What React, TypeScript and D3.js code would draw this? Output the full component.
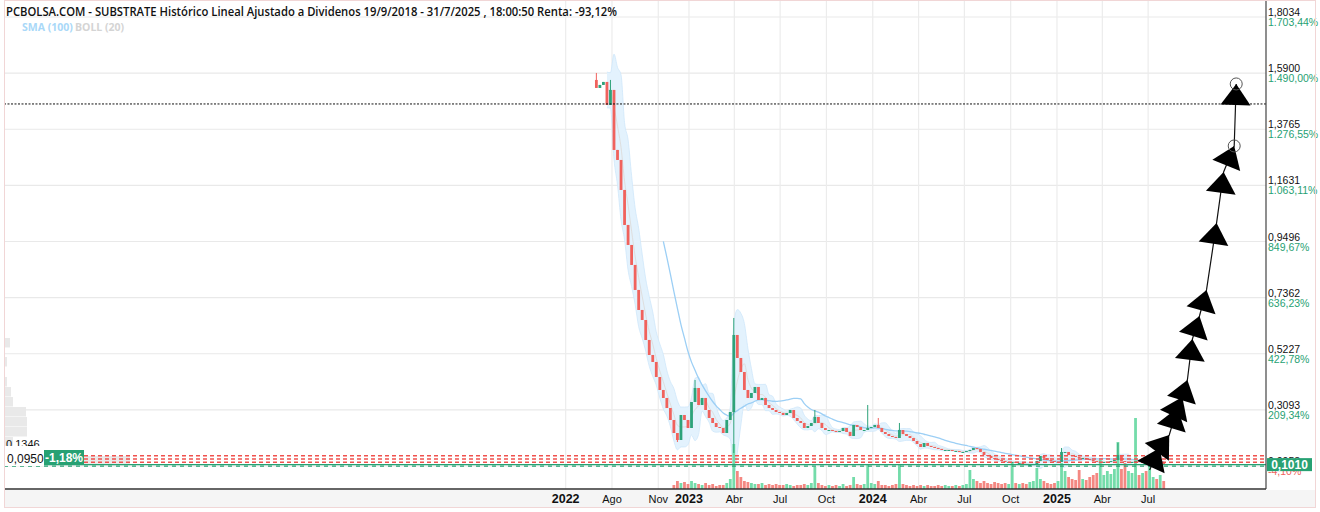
import React from 'react'
import * as d3 from 'd3'

// weekly closes from 1 Jul 2022 to end of Jul 2025
const START = '2022-07-01'
const OPEN0 = 1.5640
const closes = [
  1.5336, 1.5450, 1.5564, 1.4689, 1.5260, 1.2978, 1.2597, 1.1456, 1.0125, 0.9364,
  0.8604, 0.7653, 0.6892, 0.6511, 0.5751, 0.5180, 0.4914, 0.4343, 0.3849, 0.3545,
  0.3164, 0.2708, 0.2213, 0.1947, 0.2898, 0.2708, 0.2403, 0.3392, 0.3925, 0.3278,
  0.3545, 0.3088, 0.2784, 0.2594, 0.2441, 0.2403, 0.2213, 0.2708, 0.3012, 0.5941,
  0.5066, 0.4533, 0.3849, 0.3545, 0.3735, 0.3963, 0.3468, 0.3545, 0.3278, 0.3164,
  0.3088, 0.3012, 0.2974, 0.2898, 0.2974, 0.3088, 0.2784, 0.2670, 0.2594, 0.2403,
  0.2479, 0.2594, 0.2822, 0.2594, 0.2403, 0.2327, 0.2327, 0.2289, 0.2251, 0.2289,
  0.2403, 0.2251, 0.2099, 0.2518, 0.2441, 0.2327, 0.2327, 0.2403, 0.2441, 0.2518,
  0.2403, 0.2251, 0.2175, 0.2099, 0.2061, 0.2023, 0.2327, 0.2175, 0.2099, 0.2023,
  0.1909, 0.1795, 0.1681, 0.1833, 0.1719, 0.1681, 0.1643, 0.1605, 0.1567, 0.1567,
  0.1567, 0.1529, 0.1529, 0.1491, 0.1491, 0.1529, 0.1567, 0.1643, 0.1605, 0.1491,
  0.1376, 0.1338, 0.1262, 0.1224, 0.1186, 0.1148, 0.1110, 0.1110, 0.1110, 0.1072,
  0.1072, 0.1034, 0.0996, 0.0996, 0.1034, 0.1148, 0.1338, 0.1262, 0.1186, 0.1148,
  0.1110, 0.1110, 0.1491, 0.1491, 0.1376, 0.1338, 0.1300, 0.1262, 0.1262, 0.1224,
  0.1186, 0.1148, 0.1110, 0.1110, 0.1110, 0.1110, 0.1148, 0.1186, 0.1376, 0.1148,
  0.1110, 0.1110, 0.1110, 0.1148, 0.1110, 0.1110, 0.1072, 0.1072, 0.1072, 0.1034,
  0.1072, 0.1010,
]
// weekly volume (thousands), none shown before Dec 2022
const volumes = [
  0, 0, 0, 0, 0, 0, 0, 0, 0, 0,
  0, 0, 0, 0, 0, 0, 0, 0, 0, 0,
  0, 0, 4, 8, 6, 7, 5, 8, 6, 5,
  4, 6, 4, 5, 3, 4, 4, 6, 10, 45,
  18, 12, 8, 7, 6, 5, 5, 6, 4, 5,
  4, 5, 4, 4, 5, 4, 3, 4, 4, 5,
  4, 6, 22, 6, 4, 3, 4, 3, 4, 3,
  5, 3, 4, 12, 5, 4, 5, 24, 6, 5,
  8, 4, 4, 3, 4, 5, 24, 5, 4, 3,
  4, 3, 4, 3, 4, 3, 3, 4, 3, 4,
  3, 3, 4, 3, 4, 5, 19, 10, 8, 6,
  8, 6, 5, 7, 6, 5, 6, 5, 26, 6,
  5, 6, 5, 7, 8, 21, 10, 8, 6, 5,
  6, 8, 26, 18, 12, 10, 9, 19, 10, 9,
  12, 14, 16, 29, 14, 18, 15, 20, 47, 20,
  26, 18, 16, 71, 14, 16, 18, 26, 12, 10,
  14, 8,
]
// weeks with long wicks
const spikeIdx = [0, 4, 28, 39, 62, 77, 80, 86, 132, 148]
const spikeHigh = [1.5906, 1.5640, 0.4229, 0.6588, 0.3088, 0.3278, 0.2784, 0.2594, 0.1643, 0.1833]
const lowIdx = [39, 23]
const lowVal = [0.1452, 0.1870]

const yTicks = [0.0958, 0.3093, 0.5227, 0.7362, 0.9496, 1.1631, 1.3765, 1.59, 1.8034]
const pctLabels = ['-4,10%', '209,34%', '422,78%', '636,23%', '849,67%', '1.063,11%', '1.276,55%', '1.490,00%', '1.703,44%']

const xTickDates = ['2022-05-01', '2022-08-01', '2022-11-01', '2023-01-01', '2023-04-01', '2023-07-01', '2023-10-01',
  '2024-01-01', '2024-04-01', '2024-07-01', '2024-10-01', '2025-01-01', '2025-04-01', '2025-07-01']
const xTickLabels = ['2022', 'Ago', 'Nov', '2023', 'Abr', 'Jul', 'Oct', '2024', 'Abr', 'Jul', 'Oct', '2025', 'Abr', 'Jul']

const redLevels = [0.1346, 0.1224, 0.11]
const greenLevel = 0.095
const lastPrice = 0.101
const dottedLevel = 1.4727

// volume profile on the left (price bin centre, volume)
const profilePrice = [0.5637, 0.4914, 0.4153, 0.3773, 0.3392, 0.3012, 0.2632, 0.2251, 0.1871, 0.1491, 0.1148]
const profileVol = [5, 2, 2, 6, 8, 21, 22, 22, 8, 10, 125]

// hand-drawn arrow path on the right
const arrowDates = ['2025-07-04', '2025-07-24', '2025-08-12', '2025-08-28', '2025-09-07', '2025-09-17', '2025-09-27',
  '2025-10-11', '2025-10-25', '2025-11-14', '2025-11-28', '2025-12-19', '2025-12-23']
const arrowPrices = [0.0806, 0.1643, 0.2137, 0.3164, 0.3582, 0.4229, 0.5789, 0.6664, 0.7653, 1.0201, 1.2141, 1.313, 1.5488]

const RED = '#f0625d'
const GREEN = '#2ea37a'
const LABEL_GREEN = '#27a173'

const es = d3.formatLocale({ decimal: ',', thousands: '.', grouping: [3], currency: ['', '€'] })
const fmtPrice = es.format('.4f')

export default function App() {
  const parse = d3.timeParse('%Y-%m-%d')
  const x = d3.scaleTime().domain([parse('2023-01-01')!, parse('2025-01-01')!]).range([689, 1057])
  const y = d3.scaleLinear().domain([0.0958, 1.8034]).range([466, 17])
  const v = d3.scaleLinear().domain([0, 75]).range([489, 414])
  const pw = d3.scaleLinear().domain([0, 125]).range([5, 130])

  const start = parse(START)!
  const dates = closes.map((_, i) => d3.timeDay.offset(start, i * 7))
  const opens = closes.map((c, i) => (i === 0 ? OPEN0 : closes[i - 1]))
  const highs = closes.map((c, i) => {
    const k = spikeIdx.indexOf(i)
    return Math.max(c, opens[i], k >= 0 ? spikeHigh[k] : 0)
  })
  const lows = closes.map((c, i) => {
    const k = lowIdx.indexOf(i)
    return Math.min(c, opens[i], k >= 0 ? lowVal[k] : 99)
  })

  // SMA(100 days) ~ 20 weeks, BOLL(20 days) ~ 4 weeks
  const sma = closes.map((_, i) => (i >= 19 ? d3.mean(closes.slice(i - 19, i + 1))! : null))
  const boll = closes.map((_, i) => {
    if (i < 3) return null
    const w = closes.slice(i - 3, i + 1)
    const m = d3.mean(w)!
    const sd = Math.sqrt(d3.mean(w, (d) => (d - m) * (d - m))!)
    return { m, up: m + 2 * sd, lo: m - 2 * sd }
  })
  const idx = d3.range(closes.length)
  const bandArea = d3.area<number>()
    .defined((i) => boll[i] !== null)
    .x((i) => x(dates[i]))
    .y0((i) => y(boll[i]!.lo))
    .y1((i) => y(boll[i]!.up))
    .curve(d3.curveMonotoneX)
  const bandLine = (key: 'up' | 'lo' | 'm') => d3.line<number>()
    .defined((i) => boll[i] !== null)
    .x((i) => x(dates[i]))
    .y((i) => y(boll[i]![key]))
    .curve(d3.curveMonotoneX)(idx)
  const smaLine = d3.line<number>()
    .defined((i) => sma[i] !== null)
    .x((i) => x(dates[i]))
    .y((i) => y(sma[i]!))
    .curve(d3.curveMonotoneX)(idx)

  const arrowPts = arrowDates.map((d, i) => [x(parse(d)!), y(arrowPrices[i])] as [number, number])
  const arrowLine = d3.line()(arrowPts)

  const plotRight = 1266
  const axisY = 489
  const bw = 2.8

  return (
    <svg width={1320} height={512} style={{ position: 'absolute', left: 0, top: 0, display: 'block', background: '#fff' }}
      fontFamily="'Liberation Sans', Arial, sans-serif">
      <defs>
        <clipPath id="plot"><rect x={4} y={0} width={plotRight - 4} height={axisY} /></clipPath>
      </defs>

      {/* bottom label band */}
      <rect x={4} y={490} width={1312} height={17} fill="#f5f5f5" />

      {/* grid */}
      {yTicks.map((t) => (
        <line key={'gy' + t} x1={4} x2={plotRight} y1={y(t)} y2={y(t)} stroke="#e9e9e9" strokeWidth={1.2} />
      ))}
      {xTickDates.map((d) => (
        <line key={'gx' + d} x1={x(parse(d)!)} x2={x(parse(d)!)} y1={0} y2={axisY} stroke="#ececec" strokeWidth={1.2} />
      ))}

      <g clipPath="url(#plot)">
        {/* volume profile */}
        {profilePrice.map((p, i) => (
          <rect key={'vp' + i} x={5} y={y(p + 0.019)} width={pw(profileVol[i]) - 5} height={y(p - 0.019) - y(p + 0.019) - 0.5} fill="#e9e9e9" />
        ))}

        {/* Bollinger */}
        <path d={bandArea(idx) || ''} fill="#e3f2fd" stroke="none" />
        <path d={bandLine('up') || ''} fill="none" stroke="#cfe7fa" strokeWidth={0.8} />
        <path d={bandLine('lo') || ''} fill="none" stroke="#cfe7fa" strokeWidth={0.8} />
        <path d={bandLine('m') || ''} fill="none" stroke="#dedede" strokeWidth={1} />
        {/* SMA */}
        <path d={smaLine || ''} fill="none" stroke="#9ccff5" strokeWidth={1.3} />

        {/* volume bars */}
        {volumes.map((vol, i) => vol > 0 && (
          <rect key={'v' + i} x={x(dates[i]) - bw / 2} y={v(vol)} width={bw} height={axisY - v(vol)}
            fill={closes[i] >= opens[i] ? '#74dcaa' : '#f48882'} />
        ))}

        {/* candles */}
        {closes.map((c, i) => {
          const up = c >= opens[i]
          const col = up ? GREEN : RED
          const cx = x(dates[i])
          const top = y(Math.max(c, opens[i]))
          const h = Math.max(1, y(Math.min(c, opens[i])) - top)
          return (
            <g key={'c' + i}>
              <line x1={cx} x2={cx} y1={y(highs[i])} y2={y(lows[i])} stroke={col} strokeWidth={1} />
              <rect x={cx - bw / 2} y={top} width={bw} height={h} fill={col} />
            </g>
          )
        })}

        {/* price levels */}
        {redLevels.map((p) => (
          <line key={'rl' + p} x1={84} x2={plotRight} y1={y(p)} y2={y(p)} stroke="#f0524e" strokeWidth={1.5} strokeDasharray="4,3" />
        ))}
        <line x1={4} x2={plotRight} y1={y(lastPrice)} y2={y(lastPrice)} stroke={LABEL_GREEN} strokeWidth={1.3} />
        <line x1={4} x2={plotRight} y1={y(greenLevel)} y2={y(greenLevel)} stroke={LABEL_GREEN} strokeWidth={1.3} strokeDasharray="4,4" />
        <line x1={4} x2={plotRight} y1={y(dottedLevel)} y2={y(dottedLevel)} stroke="#111" strokeWidth={1} strokeDasharray="2,1.5" />

        {/* arrow drawing */}
        <path d={arrowLine || ''} fill="none" stroke="#111" strokeWidth={1.2} />
        {arrowPts.slice(1).map((p, k) => {
          const prev = arrowPts[k]
          const ang = (Math.atan2(p[1] - prev[1], p[0] - prev[0]) * 180) / Math.PI
          return (
            <polygon key={'ar' + k} points="0,0 -21,-15 -21,15" fill="#000"
              transform={`translate(${p[0]},${p[1]}) rotate(${ang})`} />
          )
        })}
        {arrowPts.slice(-2).map((p, k) => (
          <circle key={'ac' + k} cx={p[0]} cy={p[1]} r={6} fill="none" stroke="#555" strokeWidth={1} />
        ))}
      </g>

      {/* axes */}
      <line x1={plotRight} x2={plotRight} y1={0} y2={axisY} stroke="#444" strokeWidth={1.2} />
      <line x1={4} x2={plotRight} y1={axisY} y2={axisY} stroke="#333" strokeWidth={1.3} />

      {/* right tick labels */}
      {yTicks.map((t, i) => (
        <g key={'yl' + t}>
          <text x={1268} y={y(t) - 1} fontSize={10.5} fill="#111">{fmtPrice(t)}</text>
          <text x={1268} y={y(t) + 9} fontSize={10.5} fill={t < 0.1 ? RED : LABEL_GREEN}>{pctLabels[i]}</text>
        </g>
      ))}
      <rect x={1267} y={y(lastPrice) - 6.5} width={45} height={13} fill={LABEL_GREEN} />
      <text x={1289.5} y={y(lastPrice) + 4.5} fontSize={12} fontWeight="bold" fill="#fff" textAnchor="middle">{fmtPrice(lastPrice)}</text>

      {/* left level labels */}
      <text x={6} y={448} fontSize={11} fill="#111">{fmtPrice(redLevels[0])}</text>
      <rect x={4} y={446} width={40} height={20} fill="#fff" />
      <text x={7} y={463} fontSize={12} fill="#111">{fmtPrice(greenLevel)}</text>
      <rect x={44} y={450} width={40} height={15} fill={LABEL_GREEN} />
      <text x={64} y={462} fontSize={12} fontWeight="bold" fill="#fff" textAnchor="middle">-1,18%</text>

      {/* x tick labels */}
      {xTickDates.map((d, i) => {
        const isYear = /^\d{4}$/.test(xTickLabels[i])
        return (
          <text key={'xl' + d} x={x(parse(d)!)} y={503} textAnchor="middle" fill="#111"
            fontSize={isYear ? 12.5 : 11} fontWeight={isYear ? 'bold' : 'normal'}>{xTickLabels[i]}</text>
        )
      })}

      {/* title + legend */}
      <text x={6} y={16} fontFamily="'Open Sans', sans-serif" fontSize={12} fontWeight={600} fill="#111"
        textLength={611} lengthAdjust="spacingAndGlyphs">
        PCBOLSA.COM - SUBSTRATE Histórico Lineal Ajustado a Dividenos 19/9/2018 - 31/7/2025 , 18:00:50 Renta: -93,12%
      </text>
      <text x={22} y={31} fontFamily="'Open Sans', sans-serif" fontSize={10.5} fontWeight={700} fill="#a9d8f8">SMA (100)</text>
      <text x={75} y={31} fontFamily="'Open Sans', sans-serif" fontSize={10.5} fontWeight={700} fill="#d4d4d4">BOLL (20)</text>

      {/* outer frame */}
      <rect x={4.5} y={0.5} width={1311} height={507} fill="none" stroke="#f1d6d6" strokeWidth={1} />
    </svg>
  )
}
